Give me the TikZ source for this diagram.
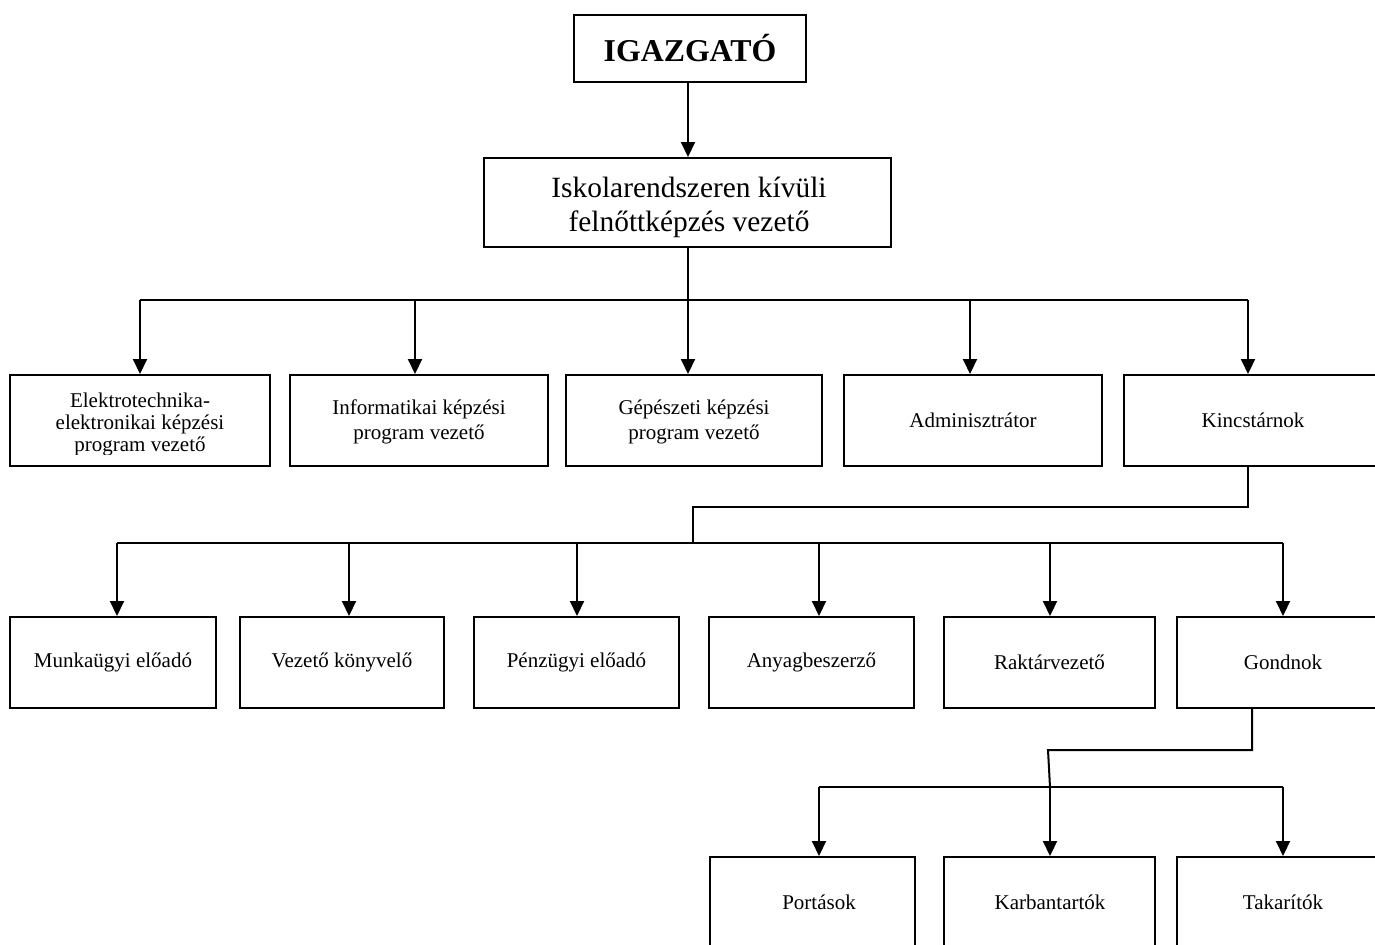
\documentclass[tikz,border=0pt]{standalone}
\usepackage{fontspec}
\setmainfont{Liberation Serif}
\usetikzlibrary{arrows.meta}
\begin{document}
\begin{tikzpicture}[x=0.5pt,y=-0.5pt,
  box/.style={draw, line width=1pt, inner sep=0pt, align=center, font=\fontsize{10.5}{12}\selectfont},
  conn/.style={line width=1pt},
  arr/.style={line width=1pt, -{Triangle[length=7.5pt,width=7pt]}},
]
\useasboundingbox (0,0) rectangle (1375,944);

% top
\node[box, minimum width=116pt, minimum height=33.5pt, font=\fontsize{15.9}{18}\selectfont\bfseries] (top) at (690,48.5) {IGAZGATÓ};
\node[box, minimum width=203.5pt, minimum height=44.5pt] (mid) at (687.5,202.5) {};
\node[align=center, inner sep=0pt, font=\fontsize{14.7}{17}\selectfont] (midt) at (689,207) {Iskolarendszeren kívüli\\felnőttképzés vezető};

% row 1
\node[box, minimum width=130pt, minimum height=45.5pt] (b1) at (140,420.5) {};
\begin{scope}
  \clip (12,377) rectangle (268,454);
  \node[align=center, inner sep=0pt, font=\fontsize{10.5}{11}\selectfont] (b1t) at (140,424) {Elektrotechnika-\\elektronikai képzési\\program vezető};
\end{scope}
\node[box, minimum width=129pt, minimum height=45.5pt] (b2) at (419,420.5) {};
\node[align=center, inner sep=0pt, font=\fontsize{10.5}{12.5}\selectfont] (b2t) at (419,422) {Informatikai képzési\\program vezető};
\node[box, minimum width=128pt, minimum height=45.5pt] (b3) at (694,420.5) {};
\node[align=center, inner sep=0pt, font=\fontsize{10.5}{12.5}\selectfont] (b3t) at (694,422) {Gépészeti képzési\\program vezető};
\node[box, minimum width=129pt, minimum height=45.5pt] (b4) at (973,420.5) {Adminisztrátor};
\node[box, minimum width=130pt, minimum height=45.5pt] (b5) at (1254,420.5) {};
\node[font=\fontsize{10.5}{12}\selectfont, inner sep=0pt] (b5t) at (1253,420.5) {Kincstárnok};

% row 2
\node[box, minimum width=103pt, minimum height=45.5pt] (c1) at (113,662.5) {Munkaügyi előadó};
\node[box, minimum width=102pt, minimum height=45.5pt] (c2) at (342,662.5) {Vezető könyvelő};
\node[box, minimum width=102.5pt, minimum height=45.5pt] (c3) at (576.5,662.5) {Pénzügyi előadó};
\node[box, minimum width=102.5pt, minimum height=45.5pt] (c4) at (811.5,662.5) {Anyagbeszerző};
\node[box, minimum width=105.5pt, minimum height=45.5pt] (c5) at (1049.5,662.5) {Raktárvezető};
\node[box, minimum width=104pt, minimum height=45.5pt] (c6) at (1281,662.5) {};
\node[font=\fontsize{10.5}{12}\selectfont, inner sep=0pt] (c6t) at (1283,662.5) {Gondnok};

% row 3
\node[box, minimum width=102.5pt, minimum height=46.5pt] (d1) at (812.5,903.5) {};
\node[font=\fontsize{10.5}{12}\selectfont, inner sep=0pt] (d1t) at (819,902) {Portások};
\node[box, minimum width=105.5pt, minimum height=46.5pt] (d2) at (1049.5,903.5) {};
\node[font=\fontsize{10.5}{12}\selectfont, inner sep=0pt] (d2t) at (1050,902) {Karbantartók};
\node[box, minimum width=104pt, minimum height=46.5pt] (d3) at (1281,903.5) {};
\node[font=\fontsize{10.5}{12}\selectfont, inner sep=0pt] (d3t) at (1283,902) {Takarítók};

% connectors top
\coordinate (t0) at (688,82);
\draw[arr] (t0) -- (t0 |- mid.north);

% bus 1
\coordinate (m0) at (688,247);
\coordinate (j1) at (688,300);
\coordinate (p1) at (140,300);
\coordinate (p2) at (415,300);
\coordinate (p3) at (688,300);
\coordinate (p4) at (970,300);
\coordinate (p5) at (1248,300);
\draw[conn] (m0) -- (j1);
\draw[conn] (p1) -- (p5);
\draw[arr] (p1) -- (p1 |- b1.north);
\draw[arr] (p2) -- (p2 |- b2.north);
\draw[arr] (p3) -- (p3 |- b3.north);
\draw[arr] (p4) -- (p4 |- b4.north);
\draw[arr] (p5) -- (p5 |- b5.north);

% bus 2
\coordinate (k0) at (1248,466);
\coordinate (k1) at (1248,507);
\coordinate (k2) at (693,507);
\coordinate (k3) at (693,543);
\draw[conn] (k0) -- (k1) -- (k2) -- (k3);
\coordinate (q1) at (117,543);
\coordinate (q2) at (349,543);
\coordinate (q3) at (577,543);
\coordinate (q4) at (819,543);
\coordinate (q5) at (1050,543);
\coordinate (q6) at (1283,543);
\draw[conn] (q1) -- (q6);
\draw[arr] (q1) -- (q1 |- c1.north);
\draw[arr] (q2) -- (q2 |- c2.north);
\draw[arr] (q3) -- (q3 |- c3.north);
\draw[arr] (q4) -- (q4 |- c4.north);
\draw[arr] (q5) -- (q5 |- c5.north);
\draw[arr] (q6) -- (q6 |- c6.north);

% bus 3
\coordinate (g0) at (1252,708);
\coordinate (g1) at (1252,750);
\coordinate (g2) at (1048,750);
\coordinate (g3) at (1050,787);
\draw[conn] (g0) -- (g1) -- (g2) -- (g3);
\coordinate (r1) at (819,787);
\coordinate (r2) at (1050,787);
\coordinate (r3) at (1283,787);
\draw[conn] (r1) -- (r3);
\draw[arr] (r1) -- (r1 |- d1.north);
\draw[arr] (r2) -- (r2 |- d2.north);
\draw[arr] (r3) -- (r3 |- d3.north);
\end{tikzpicture}
\end{document}
